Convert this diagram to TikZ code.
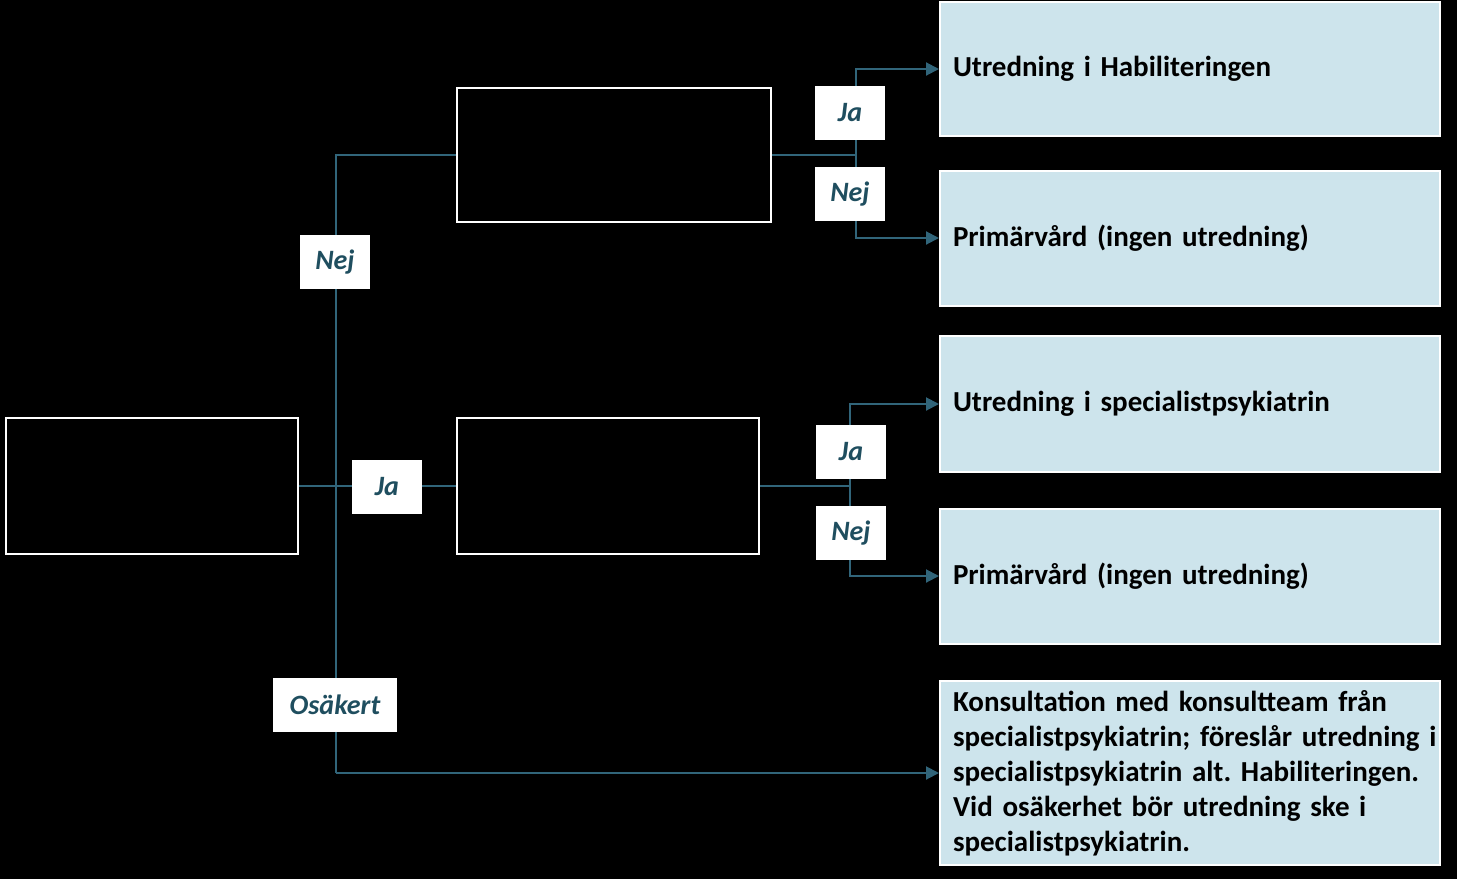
\documentclass[tikz,border=0pt]{standalone}
\usepackage{fontspec}
\setmainfont{Carlito}
\frenchspacing
\usetikzlibrary{arrows.meta}
\definecolor{linjebla}{HTML}{31657A}
\definecolor{etikett}{HTML}{1F4E5F}
\definecolor{ljusbla}{HTML}{CDE4EC}
\tikzstyle{fraga}=[rectangle,draw=white,line width=2pt,fill=black,inner sep=0pt]
\tikzstyle{utfall}=[rectangle,draw=white,line width=2pt,fill=ljusbla,minimum width=500,
  text width=474,inner xsep=13pt,align=left,font=\fontsize{29}{35}\selectfont\bfseries]
\tikzstyle{svar}=[rectangle,fill=white,minimum height=54,text=etikett,inner sep=0pt,
  font=\fontsize{28}{34}\selectfont\bfseries\itshape]
\tikzstyle{pil}=[draw=linjebla,line width=2pt]

\begin{document}
\begin{tikzpicture}[x=1pt,y=-1pt]
    \fill[black] (0,0) rectangle (1457,879);
    \useasboundingbox (0,0) rectangle (1457,879);
    \node[fraga,minimum width=292,minimum height=136] (q1) at (152,486) {};
    \node[fraga,minimum width=314,minimum height=134] (q2) at (614,155) {};
    \node[fraga,minimum width=302,minimum height=136] (q3) at (608,486) {};

    \node[utfall,minimum height=134] (r1) at (1190,69)  {Utredning i Habiliteringen};
    \node[utfall,minimum height=135] (r2) at (1190,238) {Primärvård (ingen utredning)};
    \node[utfall,minimum height=136] (r3) at (1190,404) {Utredning i specialistpsykiatrin};
    \node[utfall,minimum height=135] (r4) at (1190,576) {Primärvård (ingen utredning)};
    \node[utfall,minimum height=184] (r5) at (1190,773) {Konsultation med konsultteam från\\
      \mbox{specialistpsykiatrin; föreslår utredning i}\\specialistpsykiatrin alt. Habiliteringen.\\
      Vid osäkerhet bör utredning ske i\\specialistpsykiatrin.};

    \coordinate (t1) at (336,155);
    \coordinate (t2) at (336,773);
    \coordinate (g1) at (856,155);
    \coordinate (g2) at (850,486);

    \draw[pil] (q1) -- (q3);
    \draw[pil] (q2.west) -- (t1) -- (t2);
    \draw[pil] (q2.east) -- (g1);
    \draw[pil] (q3.east) -- (g2);
    \foreach \from/\to in {t2/r5,g1/r1,g1/r2,g2/r3,g2/r4}
    \draw[pil,-{Triangle[length=13pt,width=13pt]}] (\from) |- (\to.west);

    \node[svar,minimum width=70]  (n1) at (335,262) {Nej};
    \node[svar,minimum width=70]  (j1) at (387,487) {Ja};
    \node[svar,minimum width=124] (o1) at (335,705) {Osäkert};
    \node[svar,minimum width=70]  (j2) at (850,113) {Ja};
    \node[svar,minimum width=70]  (n2) at (850,194) {Nej};
    \node[svar,minimum width=70]  (j3) at (851,452) {Ja};
    \node[svar,minimum width=70]  (n3) at (851,533) {Nej};
\end{tikzpicture}
\end{document}
